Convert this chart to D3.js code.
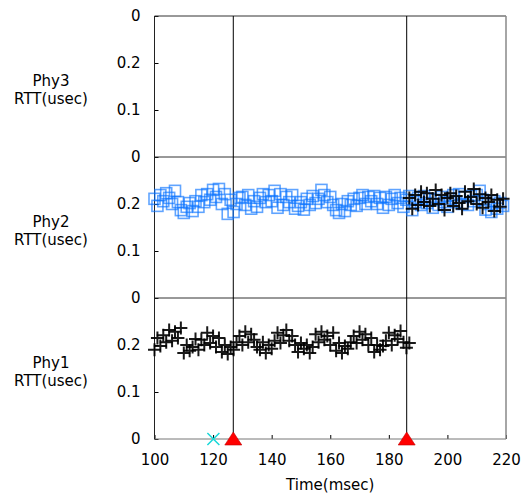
<!DOCTYPE html>
<html><head><meta charset="utf-8">
<script src="https://cdn.jsdelivr.net/npm/d3@7"></script>
<style>
html,body{margin:0;padding:0;background:#fff;}
text{font-family:"DejaVu Sans",sans-serif;font-size:15px;fill:#000;}
</style></head>
<body><svg id="c" width="522" height="498"></svg>
<script>
// ---- data ----
const panels = ["Phy3", "Phy2", "Phy1"];
const yTicks = [0, 0.1, 0.2, 0.3];
const yTickLabels = ["0", "0.1", "0.2", "0"];
const xTicks = [100, 120, 140, 160, 180, 200, 220];
const xLabel = "Time(msec)";
const yLabel = "RTT(usec)";

// Phy2 squares, t = 100..219 ms
const phy2SqStart = 100;
const phy2Squares = [
 .211,.196,.219,.206,.223,.213,.200,.228,.204,.187,
 .181,.194,.202,.185,.206,.194,.219,.204,.221,.209,
 .230,.215,.232,.200,.221,.179,.209,.183,.200,.213,
 .215,.198,.219,.190,.206,.194,.213,.221,.204,.219,
 .206,.228,.192,.221,.198,.215,.204,.219,.190,.196,
 .204,.188,.211,.198,.217,.202,.211,.230,.219,.204,
 .215,.198,.187,.181,.200,.185,.206,.198,.211,.196,
 .213,.219,.200,.215,.206,.217,.200,.213,.192,.215,
 .198,.211,.219,.202,.213,.194,.209,.217,.187,.204,
 .213,.198,.217,.202,.211,.192,.209,.198,.215,.204,
 .194,.211,.219,.204,.221,.200,.215,.198,.217,.206,
 .219,.228,.209,.188,.200,.183,.206,.190,.202,.196
];
// Phy2 crosses, t = 187..219 ms
const phy2CrStart = 187;
const phy2Crosses = [
 .213,.190,.219,.198,.226,.204,.223,.196,.211,.230,
 .200,.219,.187,.213,.223,.196,.217,.202,.190,.226,
 .206,.215,.232,.200,.221,.192,.213,.204,.219,.185,
 .209,.194,.211
];
// Phy1 crosses, t = 100..187 ms
const phy1CrStart = 100;
const phy1Crosses = [
 .190,.215,.198,.221,.206,
 .232,.209,.228,.215,.236,
 .183,.200,.188,
 .196,.213,.190,.211,.200,
 .226,.204,.219,.196,.215,
 .185,.200,.181,.196,.190,.206,
 .219,.200,.228,.206,.223,.211,.196,
 .190,.206,.183,.200,.192,.209,
 .226,.204,.221,.232,.209,.219,.200,
 .185,.204,.192,.200,.183,.196,
 .223,.206,.228,.211,.219,.200,.226,
 .188,.204,.183,.198,.192,.206,
 .219,.204,.228,.211,.223,.200,.215,
 .185,.200,.190,.198,
 .209,.226,.200,.221,.213,.230,.206,
 .194,.204
];
// events (bottom panel baseline)
const eventTimes = [126.9, 186.1];   // red triangles + vertical lines
const lossTimes = [120.1];            // cyan x

// ---- layout ----
const svg = d3.select("#c");
const L = 154.5, R = 506, T = 16, PH = 141;
const x = d3.scaleLinear().domain([100, 220]).range([L, R]);
const yScales = panels.map((p, i) =>
  d3.scaleLinear().domain([0, 0.3]).range([T + PH * (i + 1), T + PH * i]));

// panel axes
panels.forEach((p, i) => {
  const y = yScales[i];
  const tv = i === 0 ? yTicks : yTicks.slice(0, 3);
  const g = svg.append("g").attr("transform", `translate(${L},0)`)
    .call(d3.axisLeft(y).tickValues(tv)
      .tickFormat(d => yTickLabels[yTicks.indexOf(d)])
      .tickSizeInner(-4).tickSizeOuter(0).tickPadding(14));
  g.select(".domain").remove();
  g.selectAll(".tick line").attr("stroke", "#000");
  g.selectAll("text").style("font-size", "15px").attr("fill", "#000");
  const cy = T + PH * i + PH / 2;
  svg.append("text").attr("x", 51).attr("y", cy - 1).attr("text-anchor", "middle").text(p);
  svg.append("text").attr("x", 51).attr("y", cy + 17).attr("text-anchor", "middle").text(yLabel);
});

// x axis
const gx = svg.append("g").attr("transform", `translate(0,${T + 3 * PH})`)
  .call(d3.axisBottom(x).tickValues(xTicks).tickFormat(d3.format("d"))
    .tickSizeInner(-4).tickSizeOuter(0).tickPadding(15));
gx.select(".domain").remove();
gx.selectAll(".tick line").attr("stroke", "#000");
gx.selectAll("text").style("font-size", "15px");
svg.append("text").attr("x", (L + R) / 2).attr("y", 490).attr("text-anchor", "middle").text(xLabel);

// frame lines
for (let i = 0; i <= 3; i++) {
  svg.append("line").attr("x1", L).attr("x2", R)
    .attr("y1", T + PH * i).attr("y2", T + PH * i)
    .attr("stroke", i === 3 ? "#777" : "#333").attr("stroke-width", 1);
}
svg.append("line").attr("x1", L).attr("x2", L).attr("y1", T).attr("y2", T + 3 * PH)
  .attr("stroke", "#222");
svg.append("line").attr("x1", R).attr("x2", R).attr("y1", T).attr("y2", T + 3 * PH)
  .attr("stroke", "#888").attr("stroke-width", 1.5);

// event vertical lines
eventTimes.forEach(t => {
  svg.append("line").attr("x1", x(t)).attr("x2", x(t)).attr("y1", T).attr("y2", T + 3 * PH)
    .attr("stroke", "#000").attr("stroke-width", 1);
});

// squares (Phy2)
const y2 = yScales[1], y1 = yScales[2];
const sq = 11;
svg.append("g").selectAll("rect").data(phy2Squares).join("rect")
  .attr("x", (d, i) => x(phy2SqStart + i) - sq / 2)
  .attr("y", d => y2(d) - sq / 2)
  .attr("width", sq).attr("height", sq)
  .attr("fill", "none").attr("stroke", "rgb(10,115,255)")
  .attr("stroke-opacity", 0.65).attr("stroke-width", 1.6);

// crosses
function crossPath(s) { return `M${-s},0H${s}M0,${-s}V${s}`; }
function drawCrosses(data, start, y) {
  svg.append("g").selectAll("path").data(data).join("path")
    .attr("d", crossPath(6.5))
    .attr("transform", (d, i) => `translate(${x(start + i)},${y(d)})`)
    .attr("stroke", "#000").attr("stroke-width", 2).attr("fill", "none")
    .attr("stroke-opacity", 0.9);
}
drawCrosses(phy2Crosses, phy2CrStart, y2);
drawCrosses(phy1Crosses, phy1CrStart, y1);

// loss markers
svg.append("g").selectAll("path").data(lossTimes).join("path")
  .attr("d", "M-6,-6L6,6M-6,6L6,-6")
  .attr("transform", d => `translate(${x(d)},${y1(0)})`)
  .attr("stroke", "#18d8d8").attr("stroke-width", 1.5).attr("fill", "none");

// triangles
svg.append("g").selectAll("path").data(eventTimes).join("path")
  .attr("d", "M0,-7L8.5,6H-8.5Z")
  .attr("transform", d => `translate(${x(d)},${y1(0)})`)
  .attr("fill", "#ff0000").attr("stroke", "#c00000").attr("stroke-width", 0.6);
</script></body></html>
